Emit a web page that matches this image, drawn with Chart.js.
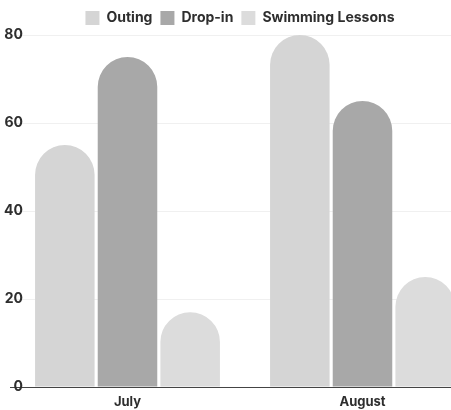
<!DOCTYPE html>
<html>
<head>
<meta charset="utf-8">
<script src="https://cdn.jsdelivr.net/npm/chart.js@4/dist/chart.umd.min.js"></script>
<style>
  html, body { margin: 0; padding: 0; overflow: hidden; background: #fff; }
  #wrap { position: relative; width: 480px; height: 410px; }
</style>
</head>
<body>
<div id="wrap"><canvas id="chart"></canvas></div>
<script>
// Monthly program attendance
const months = ['July', 'August'];
const outing = [55, 80];
const dropIn = [75, 65];
const swimmingLessons = [17, 25];
const yTicks = [0, 20, 40, 60, 80];

const font = { family: 'Inter, "Open Sans", sans-serif', weight: '700' };

new Chart(document.getElementById('chart'), {
  type: 'bar',
  data: {
    labels: months,
    datasets: [
      { label: 'Outing', data: outing, backgroundColor: '#d5d5d5' },
      { label: 'Drop-in', data: dropIn, backgroundColor: '#a8a8a8' },
      { label: 'Swimming Lessons', data: swimmingLessons, backgroundColor: '#dcdcdc' }
    ]
  },
  options: {
    responsive: true,
    maintainAspectRatio: false,
    animation: false,
    layout: { padding: { left: 0, right: 0, top: 3, bottom: 0 } },
    datasets: {
      bar: {
        categoryPercentage: 0.8,
        barPercentage: 0.95,
        borderRadius: { topLeft: 30, topRight: 30 },
        borderSkipped: 'bottom'
      }
    },
    plugins: {
      legend: {
        position: 'top',
        labels: {
          color: '#2e2e2e',
          font: { ...font, size: 14 },
          boxWidth: 14,
          boxHeight: 14,
          padding: 8
        }
      },
      tooltip: { enabled: false }
    },
    scales: {
      x: {
        afterFit: (scale) => { scale.height = 23; },
        grid: { display: false, drawTicks: false },
        border: { display: true, color: '#444', width: 1 },
        ticks: { color: '#2e2e2e', font: { ...font, size: 13 }, padding: 7 }
      },
      y: {
        min: 0,
        max: 80,
        afterBuildTicks: (scale) => { scale.ticks = yTicks.map(v => ({ value: v })); },
        afterFit: (scale) => { scale.width = 10; },
        grid: { color: 'rgba(0,0,0,0.06)', drawTicks: false },
        border: { display: false },
        ticks: {
          color: '#2e2e2e',
          font: { ...font, size: 14 },
          mirror: true,
          crossAlign: 'far',
          padding: -6
        }
      }
    }
  }
});
</script>
</body>
</html>
